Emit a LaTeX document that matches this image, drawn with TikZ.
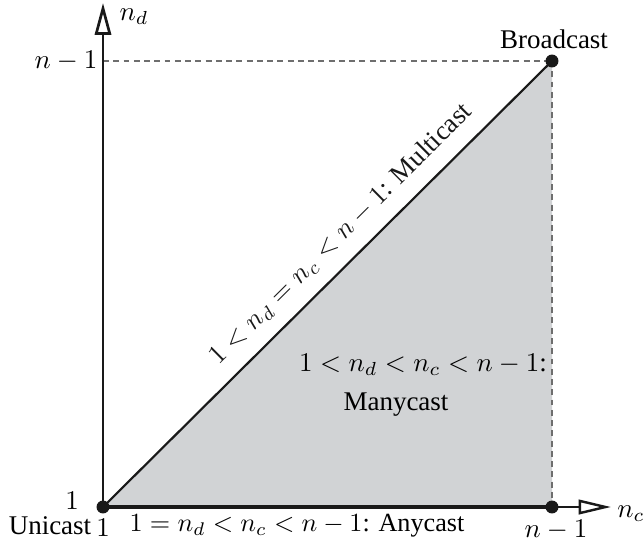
\documentclass[tikz,border=0pt]{standalone}
\usepackage[no-math]{fontspec}
\setmainfont{Liberation Serif}
\usetikzlibrary{arrows.meta}
\definecolor{regiongray}{RGB}{209,211,213}
\definecolor{dashgray}{RGB}{110,110,110}
\tikzset{
  axisline/.style={line width=1pt, black!90},
  dotpt/.style={circle, fill=black!90, inner sep=0pt, minimum size=4.8pt},
  guide/.style={dashgray, line width=0.45pt, dash pattern=on 2.2pt off 1.6pt},
  lbl/.style={inner sep=0pt, font=\fontsize{10}{12}\selectfont},
}
\begin{document}
\begin{tikzpicture}[x=0.3704pt, y=-0.3704pt]
\useasboundingbox (0,0) rectangle (644,545);
\coordinate (O) at (103,507);
\coordinate (B) at (552,61);
\coordinate (X) at (552,507);
\coordinate (Yl) at (103,61);
\coordinate (ytip) at (103,3);
\coordinate (xtip) at (611,507);
% region
\fill[regiongray] (O) -- (B) -- (X) -- cycle;
% guides
\draw[guide] (Yl) -- (B);
\draw[guide] (B) -- (X);
% axes
\draw[axisline, -{Triangle[open, length=11.8pt, width=6pt, line width=1pt]}] (O) -- (ytip);
\draw[line width=0.9pt, black!90, -{Triangle[open, length=12pt, width=5.4pt, line width=0.9pt]}] (X) -- (xtip);
\draw[line width=1.6pt, black!90] (O) -- (X);
\draw[line width=0.8pt, black!90] (O) -- node[lbl, sloped, pos=0.57, above=5pt] {$1 < n_d = n_c < n-1$: Multicast} (B);
% dots
\node[dotpt] (dO) at (O) {};
\node[dotpt] (dB) at (B) {};
\node[dotpt] (dX) at (X) {};
% labels
\node[lbl] (bc) at (554,39) {Broadcast};
\node[lbl] (ym) at (66,61) {$n-1$};
\node[lbl] (nd) at (134,17) {$n_d$};
\node[lbl] (nc) at (631,514) {$n_c$};
\node[lbl] (y1) at (72,501) {$1$};
\node[lbl] (uni) at (50,526) {Unicast};
\node[lbl] (x1) at (103,528) {$1$};
\node[lbl, scale=0.97] (any) at (297,526) {$1 = n_d < n_c < n-1$: Anycast};
\node[lbl] (xm) at (556,530) {$n-1$};
\node[lbl] (many1) at (423,365) {$1 < n_d < n_c < n-1$:};
\node[lbl] (many2) at (396,405) {Manycast};
\end{tikzpicture}
\end{document}
